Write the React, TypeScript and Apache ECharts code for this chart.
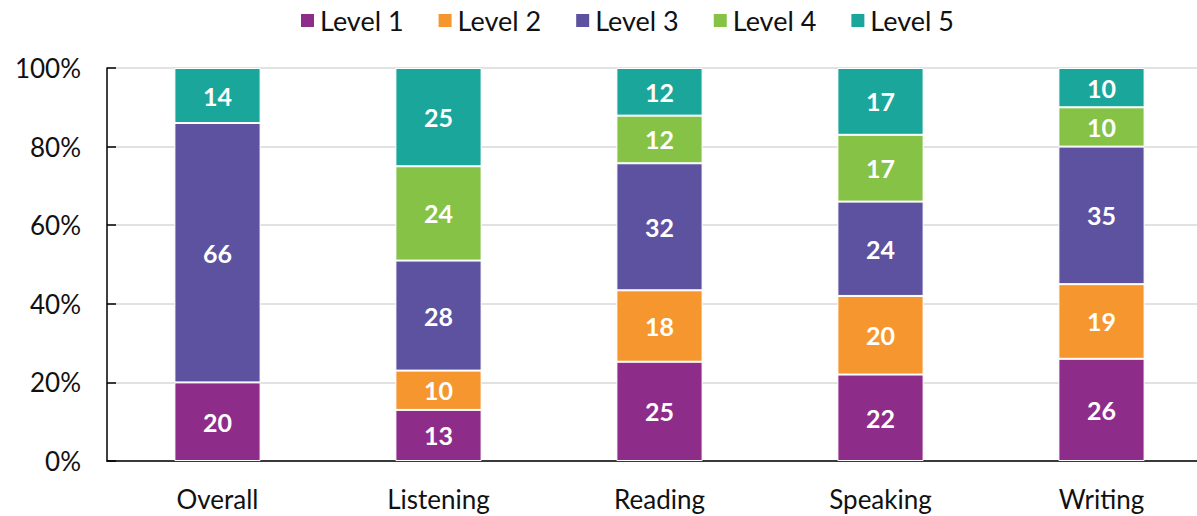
import React, { useEffect, useRef } from "react";
import * as echarts from "echarts";

const categories = ["Overall", "Listening", "Reading", "Speaking", "Writing"];
const seriesNames = ["Level 1", "Level 2", "Level 3", "Level 4", "Level 5"];
const level1 = [20, 13, 25, 22, 26];
const level2 = [null, 10, 18, 20, 19];
const level3 = [66, 28, 32, 24, 35];
const level4 = [null, 24, 12, 17, 10];
const level5 = [14, 25, 12, 17, 10];
const colors = ["#8E2C8A", "#F6962F", "#5D52A0", "#86C246", "#1AA69B"];
const yTicks = [0, 20, 40, 60, 80, 100];

const FONT = "Lato, 'Open Sans', sans-serif";

export default function App() {
  const ref = useRef<HTMLDivElement>(null);
  useEffect(() => {
    if (!ref.current) return;
    const chart = echarts.init(ref.current, null, { renderer: "svg" });
    const all = [level1, level2, level3, level4, level5];
    const totals = categories.map((_, i) =>
      all.reduce((s, arr) => s + (arr[i] ?? 0), 0)
    );
    const series = all.map((arr, k) => ({
      name: seriesNames[k],
      type: "bar",
      stack: "total",
      barWidth: "39%",
      data: arr.map((v, i) =>
        v == null ? null : { value: (v / totals[i]) * 100, raw: v }
      ),
      itemStyle: { color: colors[k], borderColor: "#ffffff", borderWidth: 1 },
      label: {
        show: true,
        position: "inside",
        color: "#ffffff",
        fontSize: 25,
        fontFamily: FONT,
        fontWeight: "bold",
        formatter: (p: any) => String(p.data.raw),
      },
    }));
    chart.setOption({
      animation: false,
      textStyle: { fontFamily: FONT },
      legend: {
        top: 2,
        left: 294,
        itemWidth: 15,
        itemHeight: 15,
        itemGap: 33,
        icon: "rect",
        textStyle: { fontSize: 27, color: "#111", fontFamily: FONT },
        data: seriesNames,
      },
      grid: { left: 107, top: 68, width: 1105, height: 393, containLabel: false },
      xAxis: {
        type: "category",
        data: categories,
        axisLine: { lineStyle: { color: "#000", width: 1.5 } },
        axisTick: { show: false },
        axisLabel: { fontSize: 26, color: "#111", margin: 25, fontFamily: FONT },
      },
      yAxis: {
        type: "value",
        min: yTicks[0],
        max: yTicks[yTicks.length - 1],
        interval: 20,
        axisLine: { show: true, lineStyle: { color: "#000", width: 1.5 } },
        axisTick: { show: true, inside: true, length: 9, lineStyle: { color: "#000", width: 1.5 } },
        splitLine: { lineStyle: { color: "#d9d9d9", width: 1.5 } },
        axisLabel: {
          fontSize: 26,
          color: "#111",
          margin: 26,
          fontFamily: FONT,
          formatter: "{value}%",
        },
      },
      series,
    });
    return () => chart.dispose();
  }, []);
  return (
    <div
      style={{ position: "absolute", left: 0, top: 0, width: 1197, height: 516, overflow: "hidden", background: "#fff" }}
    >
      <div ref={ref} style={{ width: 1230, height: 516 }} />
    </div>
  );
}
